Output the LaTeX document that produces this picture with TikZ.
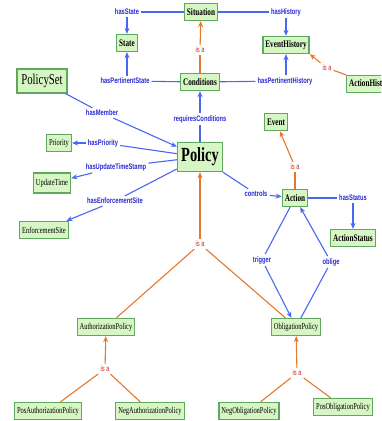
\documentclass[tikz,border=0pt]{standalone}
\usepackage{fontspec}
\setmainfont{Liberation Serif}
\newfontfamily\nodefont[FakeStretch=0.72]{Liberation Serif}
\newfontfamily\lblfont[FakeStretch=0.72]{Liberation Sans}
\usetikzlibrary{arrows.meta}
\definecolor{relblue}{RGB}{72,104,240}
\definecolor{lbltext}{RGB}{40,40,210}
\definecolor{isaorange}{RGB}{228,120,44}
\definecolor{isared}{RGB}{205,40,40}
\definecolor{nodefill}{RGB}{214,246,196}
\definecolor{nodeborder}{RGB}{96,168,96}
\tikzset{
  cls/.style={draw=nodeborder, line width=1.3pt, fill=nodefill, inner xsep=2.5pt, inner ysep=2pt, minimum height=17pt, font=\nodefont\fontsize{9}{10}\selectfont},
  bcls/.style={cls, font=\nodefont\bfseries\fontsize{10}{11}\selectfont},
  rel/.style={inner sep=2pt, text=lbltext, font=\lblfont\bfseries\fontsize{8}{9}\selectfont},
  isalbl/.style={inner sep=2pt, text=isared, font=\lblfont\fontsize{8}{9}\selectfont},
  bl/.style={draw=relblue, line width=1.1pt},
  bla/.style={bl, -{Stealth[length=6pt,width=5pt]}},
  orl/.style={draw=isaorange, line width=1.1pt},
  ora/.style={orl, -{Stealth[length=6pt,width=5pt]}}
}
\begin{document}
\begin{tikzpicture}[x=1pt,y=-1pt]
\useasboundingbox (0,0) rectangle (381,421);
\clip (0,0) rectangle (381,421);
% class nodes
\node[bcls] (sit) at (201,12) {Situation};
\node[bcls] (state) at (127,43) {State};
\node[bcls] (evh) at (286,45) {EventHistory};
\node[bcls] (cond) at (200,82) {Conditions};
\node[bcls, anchor=west] (acth) at (346,84) {ActionHistory};
\node[cls, font=\nodefont\fontsize{15}{16}\selectfont, minimum width=50pt, minimum height=24pt] (pset) at (42,81) {PolicySet};
\node[bcls, font=\nodefont\bfseries\fontsize{20}{22}\selectfont, minimum width=45pt, minimum height=29pt] (policy) at (200,157) {Policy};
\node[cls] (prio) at (59,143) {Priority};
\node[cls, minimum height=20pt] (upd) at (52,183) {UpdateTime};
\node[cls] (enf) at (44,230) {EnforcementSite};
\node[bcls] (event) at (276,122) {Event};
\node[bcls] (action) at (295,198) {Action};
\node[bcls] (astatus) at (353,238) {ActionStatus};
\node[cls] (obl) at (296,327) {ObligationPolicy};
\node[cls] (auth) at (106,327) {AuthorizationPolicy};
\node[cls] (posauth) at (48,411) {PosAuthorizationPolicy};
\node[cls] (negauth) at (150,411) {NegAuthorizationPolicy};
\node[cls] (negobl) at (249,411) {NegObligationPolicy};
\node[cls] (posobl) at (343,407) {PosObligationPolicy};
% relation labels
\node[rel] (hasState) at (127,12) {hasState};
\node[rel] (hasHist) at (286,12) {hasHistory};
\node[rel] (hps) at (125,81) {hasPertinentState};
\node[rel] (hph) at (285,81) {hasPertinentHistory};
\node[rel] (hasMember) at (102,113) {hasMember};
\node[rel] (reqc) at (200,119) {requiresConditions};
\node[rel] (hasPrio) at (103,143) {hasPriority};
\node[rel] (hasUpd) at (116,167) {hasUpdateTimeStamp};
\node[rel] (hasEnf) at (115,201) {hasEnforcementSite};
\node[rel] (controls) at (256,194) {controls};
\node[rel] (hasStatus) at (353,198) {hasStatus};
\node[rel] (trigger) at (262,260) {trigger};
\node[rel] (oblige) at (331,262) {oblige};
% is-a labels
\node[isalbl] (isa1) at (200,50) {is a};
\node[isalbl] (isa2) at (327,68) {is a};
\node[isalbl] (isa3) at (295,167) {is a};
\node[isalbl] (isa4) at (200,244) {is a};
\node[isalbl] (isa5) at (105,369) {is a};
\node[isalbl] (isa6) at (297,373) {is a};
% blue relations
\draw[bl] (sit) -- (hasState);
\draw[bla] (hasState.south -| state) -- (state);
\draw[bl] (sit) -- (hasHist);
\draw[bla] (hasHist.south -| evh) -- (evh);
\draw[bl] (cond) -- (hps);
\draw[bla] (hps.north -| state) -- (state);
\draw[bl] (cond) -- (hph);
\draw[bla] (hph.north -| evh) -- (evh);
\draw[bl] (pset) -- (hasMember);
\draw[bla] (hasMember) -- (policy);
\draw[bl] (policy) -- (reqc);
\draw[bla] (reqc) -- (cond);
\draw[bl] (policy) -- (hasPrio);
\draw[bla] (hasPrio) -- (prio);
\draw[bl] (policy) -- (hasUpd);
\draw[bla] (hasUpd) -- (upd);
\draw[bl] (policy) -- (hasEnf);
\draw[bla] (hasEnf) -- (enf);
\draw[bl] (policy) -- (controls);
\draw[bla] (controls) -- (action);
\draw[bl] (action) -- (hasStatus);
\draw[bla] (hasStatus) -- (astatus);
\draw[bl] (action) -- (trigger);
\draw[bla] (trigger) -- (obl);
\draw[bl] (obl) -- (oblige);
\draw[bla] (oblige) -- (action);
% orange is-a
\draw[orl] (cond) -- (isa1);
\draw[ora] (isa1) -- (sit);
\draw[orl] (acth.north west) -- (isa2);
\draw[ora] (isa2) -- (evh.south east);
\draw[orl] (action) -- (isa3);
\draw[ora] (isa3) -- (event);
\draw[orl] (auth) -- (isa4);
\draw[orl] (obl) -- (isa4);
\draw[ora] (isa4) -- (policy);
\draw[orl] (posauth) -- (isa5);
\draw[orl] (negauth) -- (isa5);
\draw[ora] (isa5) -- (auth);
\draw[orl] (negobl) -- (isa6);
\draw[orl] (posobl) -- (isa6);
\draw[ora] (isa6) -- (obl);
\end{tikzpicture}
\end{document}
